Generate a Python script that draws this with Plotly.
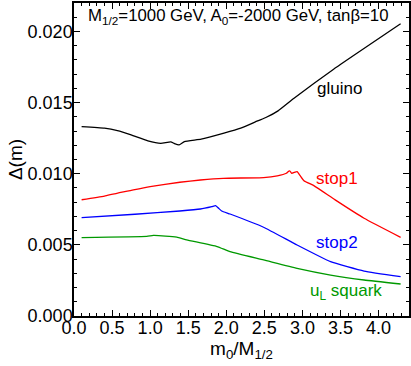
import plotly.graph_objects as go

# gluino
x_gl = [0.1, 0.4, 0.57, 0.75, 0.97, 1.14, 1.27, 1.32, 1.38, 1.45, 1.67, 1.97, 2.19, 2.41, 2.52, 2.68, 2.89, 3.41, 4.29]
y_gl = [0.01331, 0.0132, 0.01303, 0.01273, 0.01231, 0.01214, 0.01224, 0.01212, 0.01203, 0.01226, 0.01243, 0.01285, 0.0132, 0.01371, 0.01395, 0.01442, 0.01531, 0.01735, 0.02054]
# stop1
x_s1 = [0.1, 0.4, 0.78, 1.0, 1.39, 1.66, 1.96, 2.49, 2.67, 2.79, 2.83, 2.86, 2.93, 2.97, 3.02, 3.15, 3.43, 3.81, 4.29]
y_s1 = [0.00817, 0.00843, 0.00887, 0.00910, 0.0094, 0.00956, 0.00968, 0.00973, 0.00985, 0.01003, 0.01022, 0.01003, 0.01015, 0.00987, 0.00951, 0.00916, 0.00816, 0.00687, 0.00553]
# stop2
x_s2 = [0.1, 0.8, 1.39, 1.66, 1.81, 1.86, 1.9, 1.94, 2.05, 2.49, 2.93, 3.37, 3.81, 4.29]
y_s2 = [0.00692, 0.00715, 0.00738, 0.00752, 0.00769, 0.00776, 0.00757, 0.00738, 0.00717, 0.00624, 0.00499, 0.00382, 0.00316, 0.00276]
# u_L squark
x_uL = [0.1, 0.956, 1.04, 1.2, 1.35, 1.48, 1.88, 2.05, 2.49, 2.93, 3.37, 3.81, 4.29]
y_uL = [0.00551, 0.00559, 0.00566, 0.00562, 0.00554, 0.00535, 0.00488, 0.00452, 0.00394, 0.00335, 0.00288, 0.00253, 0.00225]

FONT = "Liberation Sans, Arial, Helvetica, sans-serif"

fig = go.Figure()
series = [
    (x_gl, y_gl, "black", "gluino", 3.49, 0.01596),
    (x_s1, y_s1, "#ff0000", "stop1", 3.45, 0.00968),
    (x_s2, y_s2, "#0000ff", "stop2", 3.45, 0.0052),
    (x_uL, y_uL, "#009900", "u<sub>L</sub> squark", 3.57, 0.0017),
]
for xs, ys, col, name, lx, ly in series:
    fig.add_trace(go.Scatter(x=xs, y=ys, mode="lines", line=dict(color=col, width=1.3, shape="spline", smoothing=0.4),
                             showlegend=False, hoverinfo="skip"))
    fig.add_annotation(x=lx, y=ly, xref="x", yref="y", text=name, showarrow=False,
                       font=dict(family=FONT, size=17, color=col), xanchor="center", yanchor="middle")

fig.add_annotation(x=0.036, y=0.997, xref="paper", yref="paper",
                   text="M<sub>1/2</sub>=1000 GeV, A<sub>0</sub>=-2000 GeV, tanβ=10",
                   showarrow=False, xanchor="left", yanchor="top",
                   font=dict(family=FONT, size=16.8, color="black"))

axis_common = dict(showline=True, linecolor="black", linewidth=1.5, mirror="allticks",
                   ticks="inside", ticklen=6, tickwidth=1, tickcolor="black",
                   showgrid=False, zeroline=False, automargin=False,
                   tickfont=dict(family=FONT, size=18, color="black"))

fig.update_xaxes(range=[0, 4.4], dtick=0.5, tick0=0, tickformat=".1f", ticklabelstandoff=-5,
                 minor=dict(ticks="inside", ticklen=3, dtick=0.1, tick0=0, tickcolor="black", showgrid=False),
                 title=dict(text="m<sub>0</sub>/M<sub>1/2</sub>", font=dict(family=FONT, size=19, color="black"), standoff=0),
                 **axis_common)
fig.update_yaxes(range=[0, 0.022], dtick=0.005, tick0=0, tickformat=".3f", ticklabelstandoff=-4,
                 minor=dict(ticks="inside", ticklen=3, dtick=0.001, tick0=0, tickcolor="black", showgrid=False),
                 title=dict(text="Δ(m)", font=dict(family=FONT, size=19, color="black"), standoff=0),
                 **axis_common)

fig.update_layout(width=411, height=366, margin=dict(l=74, r=2, t=3, b=50),
                  plot_bgcolor="white", paper_bgcolor="white")
fig.write_html("out.html", config={"displayModeBar": False},
               post_script="document.body.style.margin='0';document.body.style.overflow='hidden';")
